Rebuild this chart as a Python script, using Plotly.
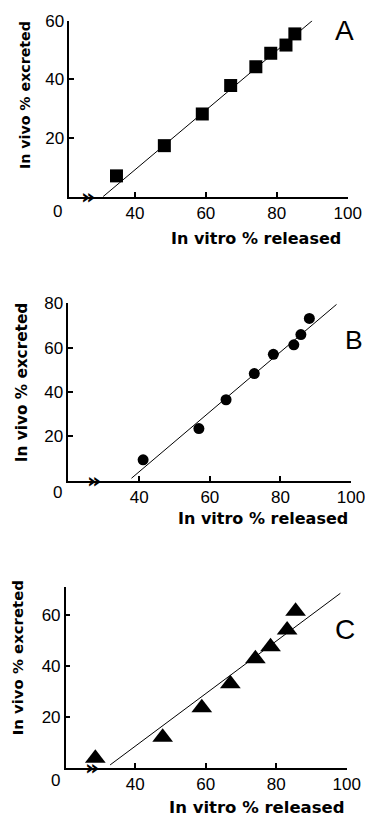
import plotly.graph_objects as go

# ---- data ----
a_x = [34.8, 48.3, 59.0, 67.0, 74.1, 78.3, 82.6, 85.1]
a_y = [7.1, 17.4, 28.2, 37.9, 44.3, 48.9, 51.7, 55.5]
a_fit_x = [31.0, 90.0]
a_fit_y = [0.0, 60.0]

b_x = [41.1, 56.9, 64.6, 72.6, 78.0, 83.8, 85.8, 88.2]
b_y = [9.4, 23.5, 36.5, 48.3, 57.0, 61.3, 65.9, 73.2]
b_fit_x = [37.8, 95.9]
b_fit_y = [1.1, 79.5]

c_x = [28.7, 47.8, 58.9, 67.0, 74.1, 78.4, 83.1, 85.5]
c_y = [3.7, 12.0, 23.6, 33.1, 42.9, 47.6, 54.2, 61.6]
c_fit_x = [32.9, 98.2]
c_fit_y = [1.1, 68.7]

x_ticks = [40, 60, 80, 100]
a_yticks = [20, 40, 60]
b_yticks = [20, 40, 60, 80]
c_yticks = [20, 40, 60]

x_title = "In vitro % released"
y_title = "In vivo % excreted"
panel_labels = ["A", "B", "C"]

W, H = 365, 817
def px(x): return x / W
def py(y): return 1 - y / H

fig = go.Figure()

def add_panel(xs, ys, fx, fy, sym, size, xa, ya):
    fig.add_trace(go.Scatter(x=fx, y=fy, mode="lines", line=dict(color="black", width=1),
                             xaxis=xa, yaxis=ya, showlegend=False, hoverinfo="skip"))
    fig.add_trace(go.Scatter(x=xs, y=ys, mode="markers",
                             marker=dict(symbol=sym, size=size, color="black", line=dict(width=0)),
                             xaxis=xa, yaxis=ya, showlegend=False, cliponaxis=False))

add_panel(a_x, a_y, a_fit_x, a_fit_y, "square", 13, "x", "y")
add_panel(b_x, b_y, b_fit_x, b_fit_y, "circle", 11, "x2", "y2")
add_panel(c_x, c_y, c_fit_x, c_fit_y, "triangle-up", 18, "x3", "y3")

tickfont = dict(family="Liberation Sans", size=17, color="black")
def xaxis(dom, rng, anchor):
    return dict(domain=dom, range=rng, anchor=anchor, tickvals=x_ticks, ticks="inside",
                ticklen=5, tickwidth=1.5, tickcolor="black", showline=True, linecolor="black",
                linewidth=2, showgrid=False, zeroline=False, tickfont=tickfont, automargin=False,
                ticklabeloverflow="allow")
def yaxis(dom, rng, anchor, tv):
    return dict(domain=dom, range=rng, anchor=anchor, tickvals=tv, ticks="inside",
                ticklen=5, tickwidth=1.5, tickcolor="black", showline=True, linecolor="black",
                linewidth=1.5, showgrid=False, zeroline=False, tickfont=tickfont, automargin=False,
                ticklabeloverflow="allow")

fig.update_layout(
    width=W, height=H, margin=dict(l=0, r=0, t=0, b=0, pad=0),
    paper_bgcolor="white", plot_bgcolor="white",
    xaxis=xaxis([px(69.3), px(347.7)], [21.5, 100], "y"),
    yaxis=yaxis([py(196.7), py(20.7)], [0, 60], "x", a_yticks),
    xaxis2=xaxis([px(68.3), px(351)], [19.9, 100], "y2"),
    yaxis2=yaxis([py(480.7), py(303.3)], [0, 80], "x2", b_yticks),
    xaxis3=xaxis([px(65.7), px(346.7)], [20.3, 100], "y3"),
    yaxis3=yaxis([py(767.7), py(586.7)], [0, 71.3], "x3", c_yticks),
)

ann = []
panels = [
    # zero label, break mark, letter(x,y,size), xtitle(right,y), ytitle(x,y), xtitle size, ytitle size
    ((57, 212), (88, 196.7), (344, 31, 28), (343, 238.3), (25, 95), 16, 14.2),
    ((57, 492.7), (94, 480.7), (354, 340, 26.5), (350, 518.3), (21.7, 382.5), 16, 15.3),
    ((55, 780), (92, 767.7), (345, 629, 28), (346.7, 807), (18.3, 658), 16.5, 14.9),
]
for i, (z, brk, let, xt, yt, xs, ys) in enumerate(panels):
    ann.append(dict(x=px(z[0]), y=py(z[1]), xref="paper", yref="paper", text="0",
                    showarrow=False, font=tickfont, xanchor="center", yanchor="middle"))
    ann.append(dict(x=px(brk[0]), y=py(brk[1]), xref="paper", yref="paper", text="<b>»</b>",
                    showarrow=False, font=dict(family="DejaVu Sans", size=22, color="black"),
                    xanchor="center", yanchor="middle"))
    ann.append(dict(x=px(let[0]), y=py(let[1]), xref="paper", yref="paper", text=panel_labels[i],
                    showarrow=False, font=dict(family="Liberation Sans", size=let[2], color="black"),
                    xanchor="center", yanchor="middle"))
    ann.append(dict(x=px(xt[0]), y=py(xt[1]), xref="paper", yref="paper", text=x_title,
                    showarrow=False, font=dict(family="DejaVu Sans", size=xs, color="black", weight="bold"),
                    xanchor="right", yanchor="middle"))
    ann.append(dict(x=px(yt[0]), y=py(yt[1]), xref="paper", yref="paper", text=y_title,
                    showarrow=False, font=dict(family="DejaVu Sans", size=ys, color="black", weight="bold"),
                    xanchor="center", yanchor="middle", textangle=-90))
fig.update_layout(annotations=ann)

fig.write_html("out.html")
